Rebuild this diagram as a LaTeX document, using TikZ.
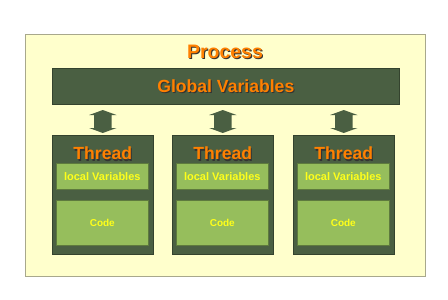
\documentclass[tikz,border=0pt]{standalone}
\usepackage{fontspec}
\setmainfont{Liberation Sans}
\usetikzlibrary{calc}
\definecolor{bgy}{HTML}{FFFFCC}
\definecolor{dg}{HTML}{4A5F42}
\definecolor{lg}{HTML}{96BE5C}
\definecolor{lgb}{HTML}{5E7A3E}
\definecolor{org}{HTML}{FF8000}
\definecolor{ylw}{HTML}{FFFF1A}
\definecolor{brd}{HTML}{A8A88C}
\newcommand\shd[1]{\makebox[0pt][l]{\hspace{1.1pt}\raisebox{-1.1pt}{\color{black!80}#1}}#1}
\begin{document}
\begin{tikzpicture}[x=1pt,y=-1pt,
  outerbox/.style={draw=brd,line width=0.8pt,fill=bgy,anchor=north west,inner sep=0,minimum width=400pt,minimum height=242pt},
  darkbox/.style={draw=dg!70!black,line width=0.6pt,fill=dg,anchor=north west,inner sep=0},
  lightbox/.style={draw=lgb,line width=0.6pt,fill=lg,anchor=north west,inner sep=0,minimum width=92.6pt,font=\bfseries\fontsize{10}{12}\selectfont,text=ylw},
  title/.style={text=org,font=\bfseries\fontsize{17.6}{20}\selectfont,inner sep=0},
  dblarrow/.style={fill=dg}
]
\useasboundingbox (0,0) rectangle (448,300);
\node[outerbox] (proc) at (25,34) {};
\node[title,font=\bfseries\fontsize{19.5}{22}\selectfont] (ptitle) at (225,52) {\shd{Process}};
\node[darkbox,minimum width=347pt,minimum height=36pt,title] (glob) at (52,68) {};
\node[title] (gtxt) at (glob.center) {\shd{Global Variables}};
\foreach \i/\x in {1/52,2/172,3/293}{
  \node[darkbox,minimum width=101pt,minimum height=119.5pt] (t\i) at (\x,134.7) {};
  \node[title] (tt\i) at ($(t\i.north)+(0,19.5)$) {\shd{Thread}};
  \node[lightbox,minimum height=25.4pt,font=\bfseries\fontsize{11}{13}\selectfont] (lv\i) at ($(t\i.north west)+(3.7,28.6)$) {local Variables};
  \node[lightbox,minimum height=45.3pt] (cd\i) at ($(t\i.north west)+(3.7,65.3)$) {Code};
  \coordinate (c\i) at ($(t\i.north)+(0,-13.2)$);
  \fill[dblarrow] ($(c\i)+(0,-11.5)$) -- ++(13.7,5) -- ++(-5,0) -- ++(0,13) -- ++(5,0)
     -- ++(-13.7,5) -- ++(-13.7,-5) -- ++(5,0) -- ++(0,-13) -- ++(-5,0) -- cycle;
}
\end{tikzpicture}
\end{document}
